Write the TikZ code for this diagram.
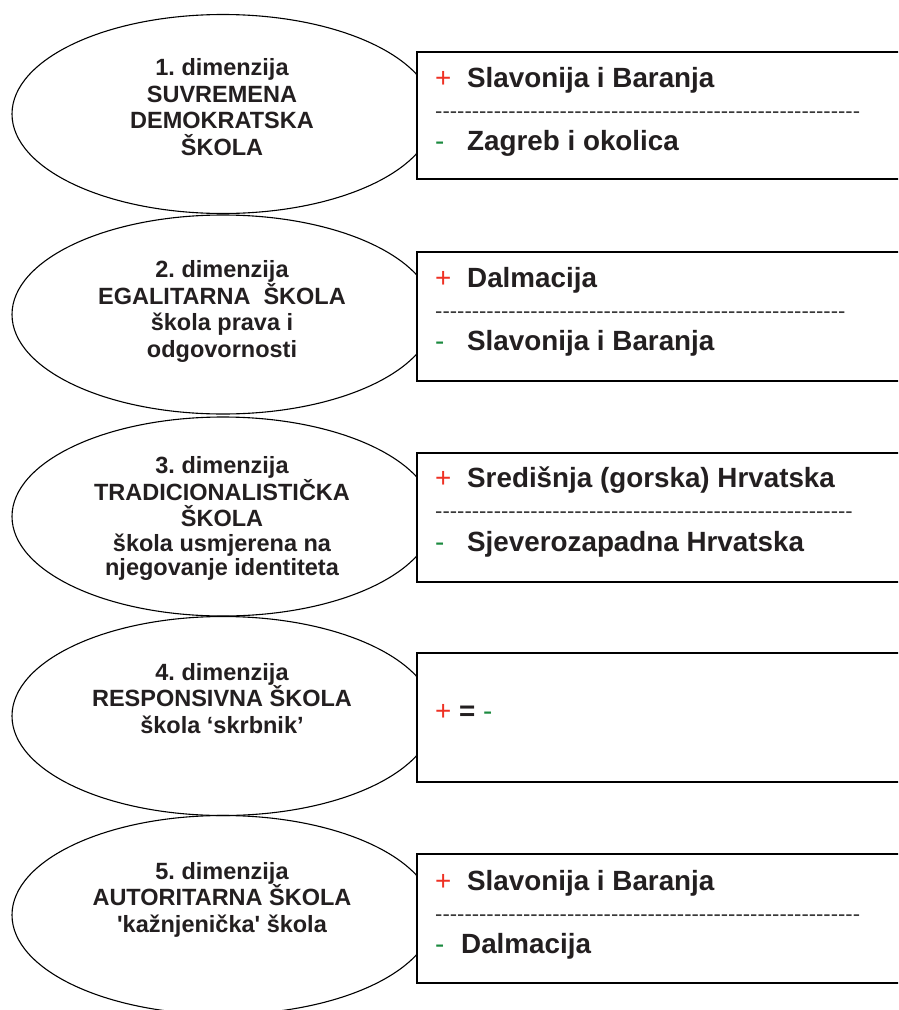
\documentclass[tikz,border=0pt]{standalone}
\usepackage{fontspec}
\setmainfont{Liberation Sans}
\newfontfamily\rawsans{Liberation Sans}
\usetikzlibrary{shapes.geometric}
\frenchspacing
\definecolor{txt}{HTML}{231F20}
\definecolor{plusred}{HTML}{EE3124}
\definecolor{minusgreen}{HTML}{1B8A3F}
\definecolor{dashgray}{HTML}{383838}
\ExplSyntaxOn
\NewDocumentCommand\dashrow{m}{\prg_replicate:nn{#1}{-\kern0pt}}
\ExplSyntaxOff
\tikzset{
  dimoval/.style={ellipse, draw=black, line width=1.1pt, minimum width=422pt, minimum height=199pt, inner sep=0pt},
  dimtext/.style={anchor=base, align=center, inner sep=0pt, text=txt,
    font=\fontsize{23.5}{26.5}\selectfont\bfseries},
  regbox/.style={draw=black, fill=white, line width=1.2pt},
  sign/.style={anchor=base west, inner sep=0pt, font=\fontsize{27.8}{30}\selectfont},
  region/.style={anchor=base west, inner sep=0pt, text=txt, font=\fontsize{27.8}{30}\selectfont\bfseries},
  dashtext/.style={anchor=base west, inner sep=0pt, text=dashgray, font=\fontsize{22}{24}\selectfont\rawsans}
}
\begin{document}
\begin{tikzpicture}[x=1pt,y=-1pt]
\clip (0,0) rectangle (898,1010);
\fill[white] (0,0) rectangle (898,1010);
% ellipses
\node[dimoval] (e1) at (223,114) {};
\node[dimoval] (e2) at (223,314.5) {};
\node[dimoval] (e3) at (223,516.5) {};
\node[dimoval] (e4) at (223,716) {};
\node[dimoval] (e5) at (223,915) {};
% ellipse texts (anchored at the baseline of the last line)
\node[dimtext] (t1) at (222,155) {1. dimenzija\\SUVREMENA\\DEMOKRATSKA\\ŠKOLA};
\node[dimtext] (t2) at (222,357) {2. dimenzija\\EGALITARNA\ \ ŠKOLA\\škola prava i\\odgovornosti};
\node[dimtext] (t3) at (222,575) {3. dimenzija\\TRADICIONALISTIČKA\\ŠKOLA\\[-1.5pt]škola usmjerena na\\[-3pt]njegovanje identiteta};
\node[dimtext] (t4) at (222,733) {4. dimenzija\\RESPONSIVNA ŠKOLA\\škola ‘skrbnik’};
\node[dimtext] (t5) at (222,932) {5. dimenzija\\AUTORITARNA ŠKOLA\\{\rawsans 'kažnjenička'} škola};
% boxes
\path[regbox] (417,52) rectangle (920,179) node[pos=0, anchor=north west, inner sep=0pt] (b1) {};
\path[regbox] (417,252) rectangle (920,381) node[pos=0, anchor=north west, inner sep=0pt] (b2) {};
\path[regbox] (417,453) rectangle (920,582) node[pos=0, anchor=north west, inner sep=0pt] (b3) {};
\path[regbox] (417,653) rectangle (920,782) node[pos=0, anchor=north west, inner sep=0pt] (b4) {};
\path[regbox] (417,854) rectangle (920,983) node[pos=0, anchor=north west, inner sep=0pt] (b5) {};
% box 1
\node[sign, text=plusred] (p1) at (435,87) {+};
\node[region] (r1a) at (467,87) {Slavonija i Baranja};
\node[dashtext] (d1) at (435,118) {\dashrow{58}};
\node[sign, text=minusgreen] (m1) at (435,150) {-};
\node[region] (r1b) at (467,150) {Zagreb i okolica};
% box 2
\node[sign, text=plusred] (p2) at (435,287) {+};
\node[region] (r2a) at (467,287) {Dalmacija};
\node[dashtext] (d2) at (435,318) {\dashrow{56}};
\node[sign, text=minusgreen] (m2) at (435,350) {-};
\node[region] (r2b) at (467,350) {Slavonija i Baranja};
% box 3
\node[sign, text=plusred] (p3) at (435,487) {+};
\node[region] (r3a) at (467,487) {Središnja (gorska) Hrvatska};
\node[dashtext] (d3) at (435,518) {\dashrow{57}};
\node[sign, text=minusgreen] (m3) at (435,551) {-};
\node[region] (r3b) at (467,551) {Sjeverozapadna Hrvatska};
% box 4
\node[sign, text=txt] (eq4) at (435,720) {\textcolor{plusred}{+} \textbf{=} \textcolor{minusgreen}{-}};
% box 5
\node[sign, text=plusred] (p5) at (435,890) {+};
\node[region] (r5a) at (467,890) {Slavonija i Baranja};
\node[dashtext] (d5) at (435,921) {\dashrow{58}};
\node[sign, text=minusgreen] (m5) at (435,953) {-};
\node[region] (r5b) at (461,953) {Dalmacija};
\end{tikzpicture}
\end{document}
